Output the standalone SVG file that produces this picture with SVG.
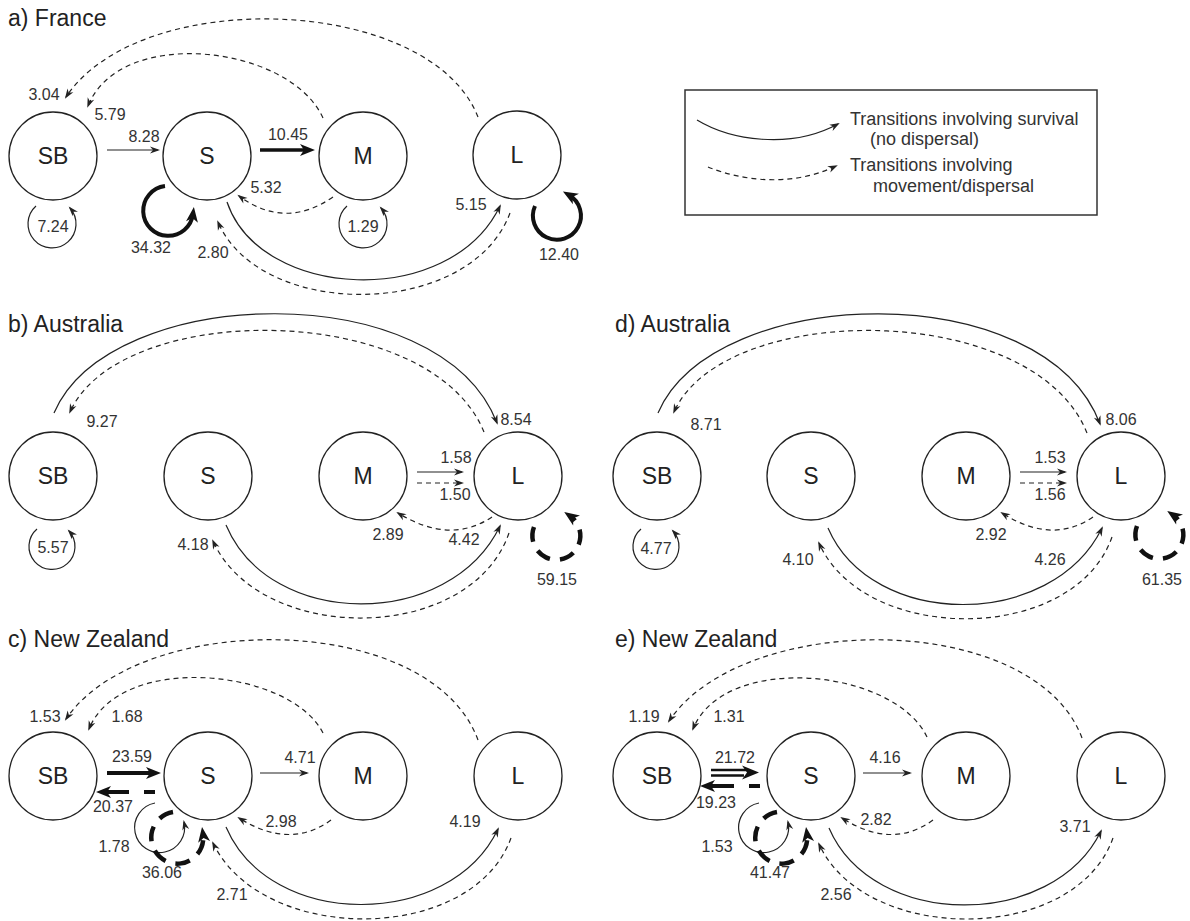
<svg xmlns="http://www.w3.org/2000/svg" width="1190" height="921" viewBox="0 0 1190 921">
<defs>
<marker id="ah" markerUnits="userSpaceOnUse" markerWidth="12" markerHeight="9" refX="8" refY="3.5" orient="auto" overflow="visible">
<path d="M0,0 L10,3.5 L0,7 L3,3.5 z" fill="#222" stroke="none"/>
</marker>
<marker id="ahT" markerUnits="userSpaceOnUse" markerWidth="16" markerHeight="14" refX="8" refY="6" orient="auto" overflow="visible">
<path d="M0,0 L15,6 L0,12 L4,6 z" fill="#111" stroke="none"/>
</marker>
<style>
.node circle{fill:none;stroke:#222;stroke-width:1.3}
.node text{font-family:"Liberation Sans",Arial,sans-serif;font-size:23px;text-anchor:middle;fill:#222}
.s{fill:none;stroke:#222;stroke-width:1.2;marker-end:url(#ah)}
.d{fill:none;stroke:#222;stroke-width:1.2;stroke-dasharray:5 4;marker-end:url(#ah)}
.ts{fill:none;stroke:#111;stroke-width:4;marker-end:url(#ahT)}
.td{fill:none;stroke:#111;stroke-width:4.5;stroke-dasharray:15 10;marker-end:url(#ahT)}
.lbl{font-family:"Liberation Sans",Arial,sans-serif;font-size:16px;text-anchor:middle;fill:#333}
.title{font-family:"Liberation Sans",Arial,sans-serif;font-size:23px;fill:#222}
.leg{font-family:"Liberation Sans",Arial,sans-serif;font-size:18px;fill:#333}
</style>
</defs>
<rect width="1190" height="921" fill="#fff"/>

<!-- Titles -->
<text class="title" x="8" y="26">a) France</text>
<text class="title" x="8" y="332">b) Australia</text>
<text class="title" x="615" y="332">d) Australia</text>
<text class="title" x="8" y="647">c) New Zealand</text>
<text class="title" x="615" y="647">e) New Zealand</text>

<!-- Legend -->
<g id="legend">
<rect x="685" y="90" width="412" height="125" fill="none" stroke="#333" stroke-width="1.5"/>
<path class="s" d="M697,120 C730,140 790,150 838,124"/>
<path class="d" d="M708,167 C740,180 790,188 836,166"/>
<text class="leg" x="850" y="125">Transitions involving survival</text>
<text class="leg" x="870" y="145">(no dispersal)</text>
<text class="leg" x="850" y="171">Transitions involving</text>
<text class="leg" x="873" y="192">movement/dispersal</text>
</g>

<!-- Panel a nodes -->
<g id="a-SB" class="node"><circle cx="53" cy="156" r="44"/><text x="53" y="164">SB</text></g>
<g id="a-S" class="node"><circle cx="207" cy="156" r="44"/><text x="207" y="164">S</text></g>
<g id="a-M" class="node"><circle cx="363" cy="156" r="44"/><text x="363" y="164">M</text></g>
<g id="a-L" class="node"><circle cx="517" cy="155" r="44"/><text x="517" y="163">L</text></g>

<g id="a-connectors">
<path class="s" d="M107,150 H158"/>
<path class="ts" style="stroke-width:3.5" d="M260,150 H308"/>
<path class="d" d="M333,197 Q285,230 239,196"/>
<path class="d" d="M323,118 C290,45 120,25 88,106"/>
<path class="d" d="M478,117 C430,-5 140,-15 66,97"/>
<path class="s" d="M227,202 C260,300 450,310 500,206"/>
<path class="d" d="M510,213 C470,320 260,320 218,222"/>
<path class="s" d="M36,206 A24 24 0 1 0 70,208"/>
<path class="ts" d="M165,186 A25 25 0 1 0 193,214"/>
<path class="s" d="M347,206 A24 24 0 1 0 381,208"/>
<path class="ts" d="M535,206 A24 24 0 1 0 569,195"/>
<text class="lbl" x="44" y="100">3.04</text>
<text class="lbl" x="110" y="120">5.79</text>
<text class="lbl" x="144" y="142">8.28</text>
<text class="lbl" x="288" y="140">10.45</text>
<text class="lbl" x="266" y="193">5.32</text>
<text class="lbl" x="53" y="232">7.24</text>
<text class="lbl" x="151" y="253">34.32</text>
<text class="lbl" x="213" y="258">2.80</text>
<text class="lbl" x="363" y="232">1.29</text>
<text class="lbl" x="471" y="210">5.15</text>
<text class="lbl" x="559" y="260">12.40</text>
</g>

<!-- Panel b nodes -->
<g id="b-SB" class="node"><circle cx="53" cy="476" r="44"/><text x="53" y="484">SB</text></g>
<g id="b-S" class="node"><circle cx="208" cy="476" r="44"/><text x="208" y="484">S</text></g>
<g id="b-M" class="node"><circle cx="363" cy="476" r="44"/><text x="363" y="484">M</text></g>
<g id="b-L" class="node"><circle cx="518" cy="476" r="44"/><text x="518" y="484">L</text></g>

<g id="b-connectors">
<path class="s" d="M54,413 C110,283 440,275 497,423"/>
<path class="d" d="M484,432 C430,300 120,300 70,412"/>
<path class="s" d="M417,472 H462"/>
<path class="d" d="M417,483 H462"/>
<path class="d" d="M492,517 Q450,545 398,513"/>
<path class="s" d="M226,525 C270,630 450,630 500,526"/>
<path class="d" d="M509,533 C470,645 260,645 213,541"/>
<path class="s" d="M37,529 A23 23 0 1 0 69,531"/>
<path class="td" d="M534,527 A24 24 0 1 0 570,516"/>
<text class="lbl" x="102" y="427">9.27</text>
<text class="lbl" x="516" y="425">8.54</text>
<text class="lbl" x="456" y="463">1.58</text>
<text class="lbl" x="455" y="500">1.50</text>
<text class="lbl" x="388" y="540">2.89</text>
<text class="lbl" x="464" y="545">4.42</text>
<text class="lbl" x="193" y="550">4.18</text>
<text class="lbl" x="53" y="553">5.57</text>
<text class="lbl" x="557" y="585">59.15</text>
</g>

<!-- Panel d nodes -->
<g id="d-SB" class="node"><circle cx="657" cy="476" r="44"/><text x="657" y="484">SB</text></g>
<g id="d-S" class="node"><circle cx="811" cy="476" r="44"/><text x="811" y="484">S</text></g>
<g id="d-M" class="node"><circle cx="966" cy="476" r="44"/><text x="966" y="484">M</text></g>
<g id="d-L" class="node"><circle cx="1121" cy="476" r="44"/><text x="1121" y="484">L</text></g>

<g id="d-connectors">
<path class="s" d="M658,413 C714,283 1044,275 1100,424"/>
<path class="d" d="M1087,433 C1034,300 724,300 674,412"/>
<path class="s" d="M1020,472 H1065"/>
<path class="d" d="M1020,483 H1065"/>
<path class="d" d="M1093,517 Q1052,545 1002,513"/>
<path class="s" d="M828,528 C872,630 1052,630 1102,528"/>
<path class="d" d="M1112,537 C1074,645 864,645 819,543"/>
<path class="s" d="M641,529 A23 23 0 1 0 673,531"/>
<path class="td" d="M1137,526 A24 24 0 1 0 1173,515"/>
<text class="lbl" x="706" y="430">8.71</text>
<text class="lbl" x="1121" y="425">8.06</text>
<text class="lbl" x="1050" y="463">1.53</text>
<text class="lbl" x="1050" y="500">1.56</text>
<text class="lbl" x="991" y="540">2.92</text>
<text class="lbl" x="1050" y="565">4.26</text>
<text class="lbl" x="798" y="565">4.10</text>
<text class="lbl" x="656" y="554">4.77</text>
<text class="lbl" x="1162" y="585">61.35</text>
</g>

<!-- Panel c nodes -->
<g id="c-SB" class="node"><circle cx="53" cy="776" r="44"/><text x="53" y="784">SB</text></g>
<g id="c-S" class="node"><circle cx="208" cy="776" r="44"/><text x="208" y="784">S</text></g>
<g id="c-M" class="node"><circle cx="363" cy="776" r="44"/><text x="363" y="784">M</text></g>
<g id="c-L" class="node"><circle cx="518" cy="776" r="44"/><text x="518" y="784">L</text></g>

<g id="c-connectors">
<path class="d" d="M478,740 C430,610 140,610 66,719"/>
<path class="d" d="M323,733 C290,668 120,652 89,729"/>
<path class="ts" d="M107,773 H154"/>
<path class="td" style="stroke-dasharray:11 15 40;stroke-width:4" d="M155,792 H103"/>
<path class="s" d="M260,773 H307"/>
<path class="d" d="M331,820 Q290,850 239,818"/>
<path class="s" d="M226,827 C270,930 450,930 498,829"/>
<path class="d" d="M511,838 C472,945 262,945 213,843"/>
<path class="s" d="M155,803 A25 25 0 1 0 184,822"/>
<path class="td" d="M173,812 A26 26 0 1 0 203,834"/>
<text class="lbl" x="45" y="722">1.53</text>
<text class="lbl" x="127" y="722">1.68</text>
<text class="lbl" x="132" y="762">23.59</text>
<text class="lbl" x="113" y="812">20.37</text>
<text class="lbl" x="300" y="763">4.71</text>
<text class="lbl" x="281" y="827">2.98</text>
<text class="lbl" x="465" y="827">4.19</text>
<text class="lbl" x="114" y="852">1.78</text>
<text class="lbl" x="162" y="878">36.06</text>
<text class="lbl" x="232" y="900">2.71</text>
</g>

<!-- Panel e nodes -->
<g id="e-SB" class="node"><circle cx="657" cy="776" r="44"/><text x="657" y="784">SB</text></g>
<g id="e-S" class="node"><circle cx="811" cy="776" r="44"/><text x="811" y="784">S</text></g>
<g id="e-M" class="node"><circle cx="966" cy="776" r="44"/><text x="966" y="784">M</text></g>
<g id="e-L" class="node"><circle cx="1121" cy="776" r="44"/><text x="1121" y="784">L</text></g>

<g id="e-connectors">
<path class="d" d="M1082,738 C1034,610 744,610 669,721"/>
<path class="d" d="M927,737 C894,668 724,652 693,729"/>
<path d="M711,770 H748 M711,775.5 H744" fill="none" stroke="#111" stroke-width="2.6"/>
<path d="M742,765.5 L759,772.5 L742,779.5 L747,772.5 z" fill="#111"/>
<path class="td" style="stroke-dasharray:11 15 40;stroke-width:4" d="M760,786 H707"/>
<path class="s" d="M863,773 H910"/>
<path class="d" d="M933,820 Q892,850 842,818"/>
<path class="s" d="M829,828 C873,930 1053,930 1101,831"/>
<path class="d" d="M1113,838 C1075,945 865,945 819,844"/>
<path class="s" d="M759,803 A25 25 0 1 0 788,822"/>
<path class="td" d="M777,812 A26 26 0 1 0 807,834"/>
<text class="lbl" x="644" y="722">1.19</text>
<text class="lbl" x="729" y="722">1.31</text>
<text class="lbl" x="735" y="763">21.72</text>
<text class="lbl" x="716" y="808">19.23</text>
<text class="lbl" x="885" y="763">4.16</text>
<text class="lbl" x="876" y="825">2.82</text>
<text class="lbl" x="1075" y="832">3.71</text>
<text class="lbl" x="717" y="852">1.53</text>
<text class="lbl" x="770" y="878">41.47</text>
<text class="lbl" x="836" y="900">2.56</text>
</g>
</svg>
